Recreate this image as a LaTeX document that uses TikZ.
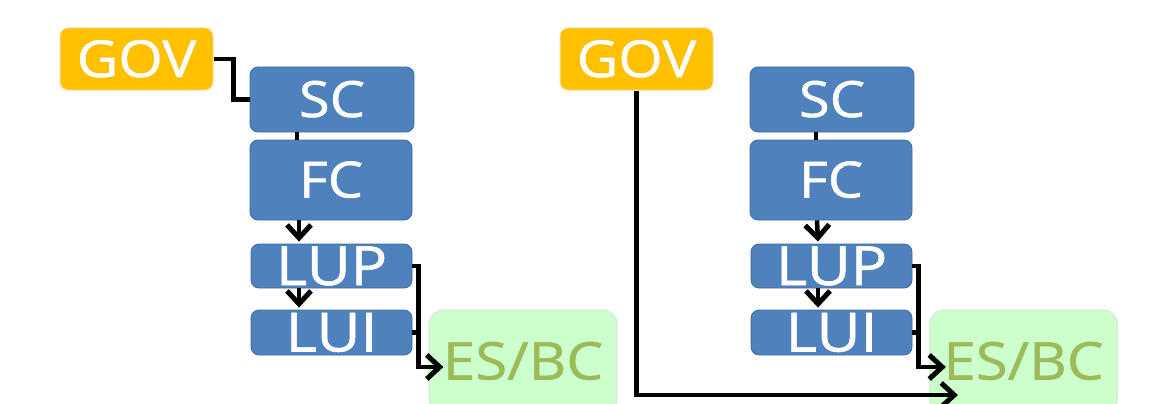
\documentclass[tikz,border=0pt]{standalone}
\usepackage{fontspec}
\setmainfont{Open Sans}[FakeStretch=1.12,FakeBold=1]
\usetikzlibrary{arrows.meta,calc}
\definecolor{boxblue}{HTML}{4F81BD}
\definecolor{boxblueedge}{HTML}{3E6A9E}
\definecolor{govgold}{HTML}{FFC000}
\definecolor{govedge}{HTML}{F5DFA0}
\definecolor{esgreen}{HTML}{CCFFCC}
\definecolor{esedge}{HTML}{DDE8DD}
\definecolor{estext}{HTML}{9BBB59}
\tikzset{
  bluebox/.style={draw=boxblueedge, line width=0.8pt, fill=boxblue, rounded corners=8pt,
    text=white, inner sep=0pt, text height=35pt, text depth=0pt,
    font=\fontsize{50}{50}\selectfont},
  bigtext/.style={text height=38pt, font=\fontsize{54}{54}\selectfont},
  govbox/.style={draw=govedge, line width=1pt, fill=govgold, rounded corners=8pt,
    text=white, inner sep=0pt, text height=36pt, text depth=0pt,
    font=\fontsize{51}{51}\selectfont, minimum width=153pt, minimum height=62pt},
  esbox/.style={draw=esedge, line width=1.2pt, fill=esgreen, rounded corners=14pt,
    text=estext, inner sep=0pt, text height=37pt, text depth=0pt,
    font=\fontsize{52}{52}\selectfont, minimum width=188pt, minimum height=102pt},
  conn/.style={line width=4.5pt, draw=black},
  arr/.style={conn, -{Straight Barb[length=13pt,width=24pt,line width=5pt]}},
}
\begin{document}
\begin{tikzpicture}[x=1pt,y=-1pt]
\useasboundingbox (0,0) rectangle (1170,404);
\clip (0,0) rectangle (1170,404);
% ---------- left panel ----------
\node[govbox] (govL) at (136.5,59) {GOV};
\node[bluebox, minimum width=164pt, minimum height=65pt] (scL) at (332,99.5) {SC};
\node[bluebox, minimum width=162pt, minimum height=80pt] (fcL) at (331,180) {FC};
\node[bluebox, bigtext, minimum width=161pt, minimum height=44pt] (lupL) at (331.5,266) {LUP};
\node[bluebox, bigtext, minimum width=161pt, minimum height=45pt] (luiL) at (331.5,332.5) {LUI};
\node[esbox] (esL) at (523,361) {ES/BC};
\draw[conn] (govL.east) -- ++(20,0) |- (scL.west);
\draw[conn] ([xshift=-35pt]scL.south) -- ([xshift=-34pt]fcL.north);
\draw[arr] ([xshift=-32pt]fcL.south) -- ([xshift=-32.5pt,yshift=2pt]lupL.north);
\draw[arr] ([xshift=-32.5pt]lupL.south) -- ([xshift=-32.5pt,yshift=2pt]luiL.north);
\draw[conn] (luiL.east) -- ++(6,0);
\draw[arr, shorten >=-15pt] (lupL.east) -- ++(6,0) |- ([yshift=-6pt]esL.west);
% ---------- right panel ----------
\node[govbox] (govR) at (636.5,59) {GOV};
\node[bluebox, minimum width=164pt, minimum height=65pt] (scR) at (832,99.5) {SC};
\node[bluebox, minimum width=162pt, minimum height=80pt] (fcR) at (831,180) {FC};
\node[bluebox, bigtext, minimum width=161pt, minimum height=44pt] (lupR) at (831.5,266) {LUP};
\node[bluebox, bigtext, minimum width=161pt, minimum height=45pt] (luiR) at (831.5,332.5) {LUI};
\node[esbox] (esR) at (1023.5,361) {ES/BC};
\draw[conn] ([xshift=-16pt]scR.south) -- ([xshift=-15pt]fcR.north);
\draw[arr] ([xshift=-14pt]fcR.south) -- ([xshift=-13.5pt,yshift=2pt]lupR.north);
\draw[arr] ([xshift=-13.5pt]lupR.south) -- ([xshift=-13.5pt,yshift=2pt]luiR.north);
\draw[conn] (luiR.east) -- ++(6,0);
\draw[arr, shorten >=-17pt] (lupR.east) -- ++(6,0) |- ([yshift=-6pt]esR.west);
\draw[arr, shorten >=-29pt] (govR.south) |- ([yshift=-34pt]esR.west);
\end{tikzpicture}
\end{document}
